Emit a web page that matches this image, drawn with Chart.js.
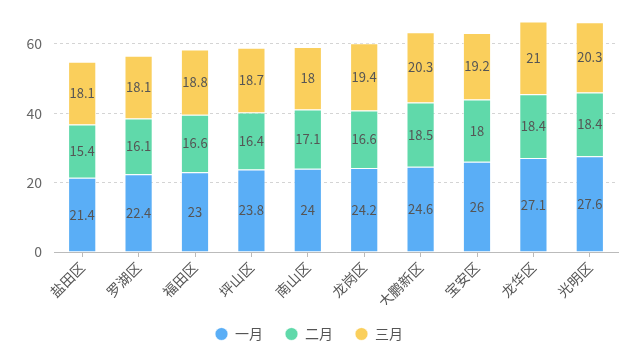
<!DOCTYPE html>
<html><head><meta charset="utf-8">
<script src="https://cdn.jsdelivr.net/npm/chart.js@4/dist/chart.umd.min.js"></script>
<style>html,body{margin:0;padding:0;background:#fff}#wrap{width:640px;height:357px}</style>
</head><body><div id="wrap"><canvas id="c" width="640" height="357"></canvas></div>
<script>
const categories = ['盐田区','罗湖区','福田区','坪山区','南山区','龙岗区','大鹏新区','宝安区','龙华区','光明区'];
const seriesNames = ['一月','二月','三月'];
const janValues = [21.4,22.4,23,23.8,24,24.2,24.6,26,27.1,27.6];
const febValues = [15.4,16.1,16.6,16.4,17.1,16.6,18.5,18,18.4,18.4];
const marValues = [18.1,18.1,18.8,18.7,18,19.4,20.3,19.2,21,20.3];
const yTicks = [0,20,40,60];

const FONT = "'Noto Sans CJK SC','Noto Sans',sans-serif";
const colors = ['#5AAEF6','#60D9AA','#FACF5C'];

const labelPlugin = {
  id:'barLabels',
  afterDatasetsDraw(chart){
    const ctx = chart.ctx;
    ctx.save();
    ctx.font = "13px " + FONT;
    ctx.fillStyle = '#555';
    ctx.textAlign = 'center';
    ctx.textBaseline = 'middle';
    chart.data.datasets.forEach((ds,i)=>{
      const meta = chart.getDatasetMeta(i);
      meta.data.forEach((el,j)=>{
        const p = el.getProps(['x','y','base'],true);
        ctx.fillText(String(ds.data[j]), p.x, (p.y+p.base)/2);
      });
    });
    ctx.restore();
  }
};

new Chart(document.getElementById('c'),{
  type:'bar',
  data:{
    labels:categories,
    datasets:[
      {label:seriesNames[0],data:janValues,backgroundColor:colors[0]},
      {label:seriesNames[1],data:febValues,backgroundColor:colors[1]},
      {label:seriesNames[2],data:marValues,backgroundColor:colors[2]}
    ].map(d=>Object.assign(d,{borderColor:'rgba(255,255,255,0.5)',borderWidth:1,barPercentage:0.5,categoryPercentage:1}))
  },
  options:{
    responsive:false,
    animation:false,
    layout:{padding:{left:0,right:22,top:0,bottom:6}},
    plugins:{
      legend:{
        position:'bottom',
        labels:{usePointStyle:true,pointStyle:'circle',boxWidth:13,boxHeight:9,padding:22,color:'#555',font:{family:FONT,size:14}}
      },
      tooltip:{enabled:false}
    },
    scales:{
      x:{
        stacked:true,
        grid:{display:true,drawOnChartArea:false,offset:false,tickLength:5,color:'#bbb'},
        border:{display:true,color:'#bbb'},
        ticks:{color:'#555',font:{family:FONT,size:14},minRotation:45,maxRotation:45,padding:2},
        afterFit(s){ s.height = 53; }
      },
      y:{
        stacked:true,
        min:0,max:66.8,
        afterBuildTicks(s){ s.ticks = yTicks.map(v=>({value:v})); },
        grid:{color:'#d4d4d4',drawTicks:false},
        border:{display:false,dash:[3,3]},
        ticks:{color:'#666',font:{family:FONT,size:14},padding:12},
        afterFit(s){ s.width = 54; }
      }
    }
  },
  plugins:[labelPlugin]
});
</script></body></html>
